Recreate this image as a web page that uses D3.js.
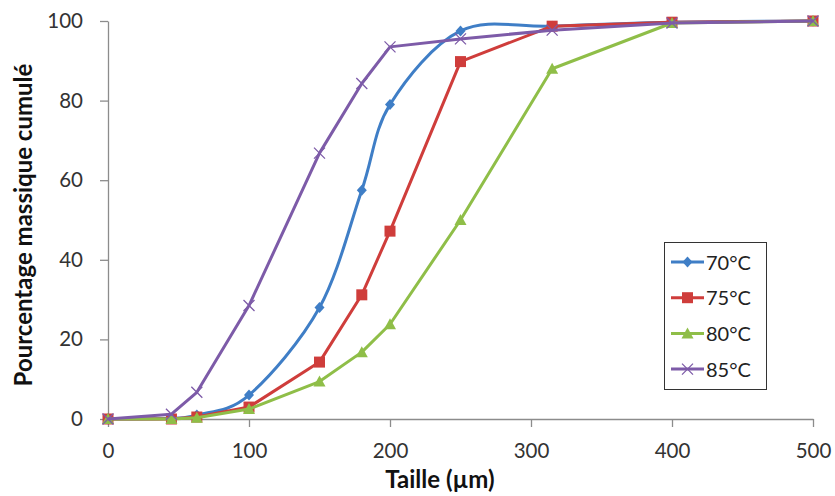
<!DOCTYPE html>
<html><head><meta charset="utf-8">
<script src="https://cdn.jsdelivr.net/npm/d3@7"></script>
<style>body{margin:0;background:#fff}svg{display:block}text{font-family:Lato,"Open Sans",sans-serif}</style>
</head><body><svg id="c" width="835" height="496"></svg>
<script>
const sizes = [0, 45, 63, 100, 150, 180, 200, 250, 315, 400, 500];
const s70 = [0, 0.2, 1, 6, 28, 57.5, 79, 97.5, 98.7, 99.7, 100];
const s75 = [0, 0, 0.5, 3, 14.3, 31.2, 47.2, 89.8, 98.7, 99.7, 100];
const s80 = [0, 0, 0.3, 2.5, 9.4, 16.8, 23.8, 50, 88, 99.5, 100];
const s85 = [0, 1.2, 6.7, 28.5, 66.8, 84.3, 93.5, 95.5, 97.7, 99.5, 100];
const seriesNames = ["70°C", "75°C", "80°C", "85°C"];
const xTicks = [0, 100, 200, 300, 400, 500];
const yTicks = [0, 20, 40, 60, 80, 100];

const colors = ["#3F7EC6", "#CF3D3B", "#8FBE48", "#7D5BA8"];
const symbols = ["diamond", "square", "triangle", "x"];
const smooth = [true, false, false, false];
const allSeries = [s70, s75, s80, s85];

const svg = d3.select("#c");
const x = d3.scaleLinear().domain([0, 500]).range([108, 813]);
const y = d3.scaleLinear().domain([0, 100]).range([419, 21]);

// axes
const gx = svg.append("g").attr("transform", "translate(0,419)")
  .call(d3.axisBottom(x).tickValues(xTicks).tickSize(8).tickPadding(16).tickSizeOuter(0));
const gy = svg.append("g").attr("transform", "translate(108,0)")
  .call(d3.axisLeft(y).tickValues(yTicks).tickSize(8).tickPadding(17).tickSizeOuter(0));
[gx, gy].forEach(g => {
  g.select(".domain").attr("stroke", "#8c8c8c").attr("stroke-width", 1.3);
  g.selectAll(".tick line").attr("stroke", "#8c8c8c").attr("stroke-width", 1.3);
  g.selectAll("text").attr("fill", "#333").style("font-size", "20.5px").style("font-family", "Lato, sans-serif");
});

// titles
svg.append("text").attr("x", 440).attr("y", 488).attr("text-anchor", "middle")
  .style("font-size", "24px").style("font-weight", "bold").attr("fill", "#111").text("Taille (µm)");
svg.append("text").attr("transform", "translate(32,225) rotate(-90)").attr("text-anchor", "middle")
  .style("font-size", "24px").style("font-weight", "bold").attr("fill", "#111").text("Pourcentage massique cumulé");

function marker(g, type, color, cx, cy) {
  if (type === "diamond") {
    g.append("path").attr("d", `M${cx},${cy-5.5}L${cx+5},${cy}L${cx},${cy+5.5}L${cx-5},${cy}Z`).attr("fill", color);
  } else if (type === "square") {
    g.append("rect").attr("x", cx-5.5).attr("y", cy-5.5).attr("width", 11).attr("height", 11).attr("fill", color);
  } else if (type === "triangle") {
    g.append("path").attr("d", `M${cx},${cy-6}L${cx+6},${cy+5}L${cx-6},${cy+5}Z`).attr("fill", color);
  } else {
    g.append("path").attr("d", `M${cx-5.5},${cy-5.5}L${cx+5.5},${cy+5.5}M${cx-5.5},${cy+5.5}L${cx+5.5},${cy-5.5}`)
      .attr("stroke", color).attr("stroke-width", 1.3).attr("fill", "none");
  }
}

allSeries.forEach((vals, i) => {
  const pts = sizes.map((s, j) => [s, vals[j]]);
  const line = d3.line().x(d => x(d[0])).y(d => y(d[1]))
    .curve(smooth[i] ? d3.curveCatmullRom.alpha(0) : d3.curveLinear);
  const g = svg.append("g");
  g.append("path").attr("d", line(pts)).attr("fill", "none").attr("stroke", colors[i])
    .attr("stroke-width", 3).attr("stroke-linejoin", "round");
  pts.forEach(p => marker(g, symbols[i], colors[i], x(p[0]), y(p[1])));
});

// legend
const lg = svg.append("g");
lg.append("rect").attr("x", 664.5).attr("y", 242.5).attr("width", 102).attr("height", 147)
  .attr("fill", "#fff").attr("stroke", "#333").attr("stroke-width", 1);
seriesNames.forEach((n, i) => {
  const cy = 262 + i * 35.7;
  lg.append("line").attr("x1", 671).attr("x2", 704).attr("y1", cy).attr("y2", cy)
    .attr("stroke", colors[i]).attr("stroke-width", 3);
  marker(lg, symbols[i], colors[i], 687.5, cy);
  lg.append("text").attr("x", 706).attr("y", cy + 7.5).style("font-size", "20px").attr("fill", "#222").text(n);
});
</script></body></html>
